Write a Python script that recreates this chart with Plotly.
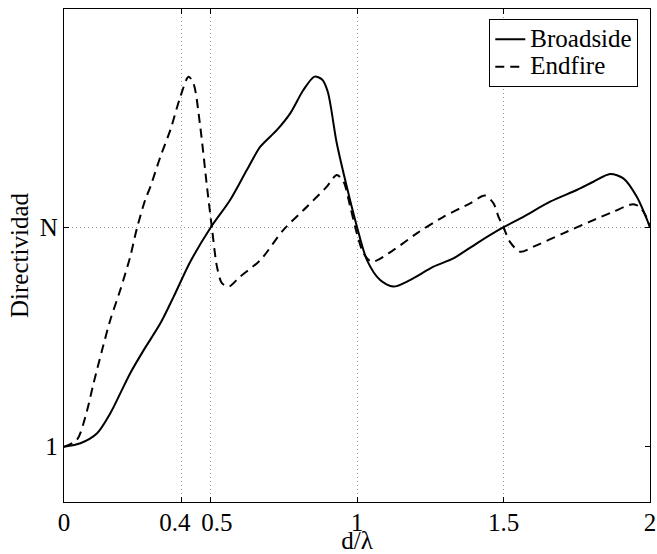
import plotly.graph_objects as go

N_VAL = 10  # value plotted at the "N" tick

d_broadside = [0.0, 0.056, 0.113, 0.158, 0.192, 0.226, 0.272, 0.329, 0.374, 0.431,
               0.499, 0.567, 0.624, 0.670, 0.727, 0.772, 0.817, 0.855, 0.880, 0.900,
               0.931, 0.965, 1.0, 1.034, 1.079, 1.124, 1.181, 1.261, 1.329, 1.409,
               1.5, 1.568, 1.659, 1.75, 1.807, 1.864, 1.909, 1.955, 2.0]
D_broadside = [1.00, 1.14, 1.55, 2.37, 3.19, 4.02, 4.97, 6.07, 7.16, 8.60,
               9.98, 11.14, 12.37, 13.33, 14.02, 14.70, 15.66, 16.21, 16.10, 15.60,
               13.47, 11.69, 10.03, 8.67, 7.85, 7.58, 7.85, 8.40, 8.74, 9.36,
               10.02, 10.45, 11.07, 11.55, 11.89, 12.21, 12.03, 11.27, 10.02]

d_endfire = [0.0, 0.044, 0.073, 0.101, 0.130, 0.158, 0.192, 0.226, 0.249, 0.277,
             0.295, 0.329, 0.363, 0.397, 0.425, 0.442, 0.465, 0.488, 0.505, 0.522,
             0.539, 0.562, 0.601, 0.670, 0.749, 0.829, 0.897, 0.931, 0.954, 0.977,
             0.9995, 1.022, 1.051, 1.124, 1.204, 1.295, 1.386, 1.437, 1.466, 1.483,
             1.5, 1.522, 1.557, 1.602, 1.704, 1.795, 1.875, 1.943, 1.965, 1.985, 2.0]
D_endfire = [1.00, 1.28, 2.23, 3.61, 4.97, 6.21, 7.44, 8.81, 9.98, 11.14,
             11.69, 12.92, 14.02, 15.38, 16.21, 15.93, 14.15, 11.69, 9.98, 8.40,
             7.72, 7.58, 7.99, 8.67, 9.91, 10.86, 11.69, 12.17, 11.89, 10.86,
             9.77, 8.95, 8.60, 9.08, 9.77, 10.45, 11.00, 11.32, 11.00, 10.45,
             10.02, 9.42, 9.01, 9.22, 9.77, 10.25, 10.66, 10.97, 10.85, 10.50, 10.02]

x_tickvals = [0, 0.4, 0.5, 1, 1.5, 2]
x_ticktext = ["0", "0.4\u00a0\u00a0", "\u00a0\u00a00.5", "1", "1.5", "2"]
y_tickvals = [1, N_VAL]
y_ticktext = ["1", "N"]
series_names = ["Broadside", "Endfire"]

FONT = "Liberation Serif"

def big(s):
    return "<span style='font-size:25px'>" + s + "</span>"

fig = go.Figure()
fig.add_trace(go.Scatter(x=d_broadside, y=D_broadside, mode="lines", name=big(series_names[0]),
                         line=dict(color="black", width=2, shape="spline", smoothing=0.8)))
fig.add_trace(go.Scatter(x=d_endfire, y=D_endfire, mode="lines", name=big(series_names[1]),
                         line=dict(color="black", width=2, dash="9px,6px",
                                   shape="spline", smoothing=0.8)))

axis_common = dict(showline=True, linecolor="black", linewidth=1.3, mirror="ticks",
                   ticks="inside", ticklen=5, tickcolor="black", zeroline=False,
                   tickangle=0,
                   tickfont=dict(family=FONT, size=25, color="black"))

GRID = dict(gridcolor="#9a9a9a", griddash="1px,3px", gridwidth=1)

fig.update_xaxes(range=[0, 2], tickmode="array", tickvals=x_tickvals, ticktext=x_ticktext,
                 showgrid=True, **GRID, ticklabelstandoff=-2,
                 title=dict(text="d/λ", font=dict(family=FONT, size=25, color="black"),
                            standoff=5),
                 **axis_common)
fig.update_yaxes(range=[-1.273, 18.99], tickmode="array", tickvals=y_tickvals,
                 ticktext=y_ticktext, showgrid=False,
                 minor=dict(tickmode="array", tickvals=[N_VAL], showgrid=True, ticks="", **GRID),
                 title=dict(text="Directividad", font=dict(family=FONT, size=25, color="black"),
                            standoff=4),
                 **axis_common)

fig.update_layout(
    width=657, height=554,
    margin=dict(l=64, r=7, t=9, b=52, autoexpand=False),
    paper_bgcolor="white", plot_bgcolor="white",
    font=dict(family=FONT, size=25, color="black"),
    legend=dict(x=0.9795, y=0.9797, xanchor="right", yanchor="top",
                bgcolor="white", bordercolor="black", borderwidth=1.3,
                font=dict(family=FONT, size=19, color="black"),
                tracegroupgap=0, itemwidth=30),
    showlegend=True,
)

fig.write_html("out.html", config={"displayModeBar": False},
               post_script="document.body.style.margin='0';")
